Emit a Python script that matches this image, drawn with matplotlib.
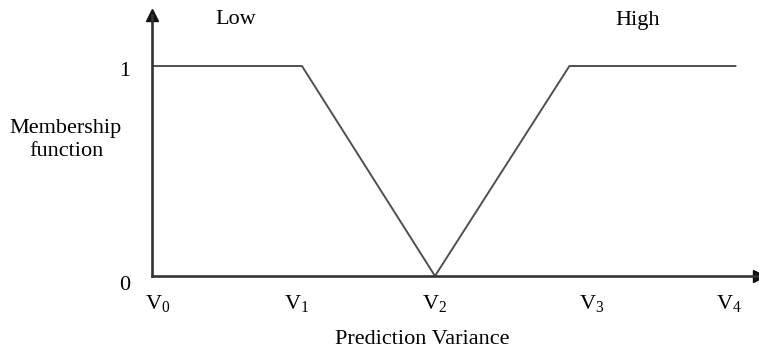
import matplotlib
matplotlib.use("Agg")
import matplotlib.pyplot as plt

plt.rcParams['font.family'] = ['Liberation Serif', 'DejaVu Serif']
plt.rcParams['mathtext.fontset'] = 'custom'
plt.rcParams['mathtext.rm'] = 'Liberation Serif'
plt.rcParams['mathtext.it'] = 'Liberation Serif:italic'

# Data (x in variance units, y membership)
low_x = [0.0, 1.06, 2.0]
low_y = [1, 1, 0]
high_x = [2.0, 2.95, 4.13]
high_y = [0, 1, 1]
v_labels = [r'$\mathrm{V}_0$', r'$\mathrm{V}_1$', r'$\mathrm{V}_2$', r'$\mathrm{V}_3$', r'$\mathrm{V}_4$']
v_pos = [0.04, 1.02, 2.0, 3.11, 4.08]

FS = 16

fig = plt.figure(figsize=(7.59, 3.55), dpi=100)
ax = fig.add_axes([152/759, (355-276)/355, (759-152)/759, (276-15)/355])
ax.set_xlim(0, 4.29)
ax.set_ylim(0, 1.243)

line_c = '#505050'
ax.plot(low_x, low_y, color=line_c, lw=1.4, solid_capstyle='butt')
ax.plot(high_x, high_y, color=line_c, lw=1.4, solid_capstyle='butt')

for s in ['top', 'right']:
    ax.spines[s].set_visible(False)
for s in ['left', 'bottom']:
    ax.spines[s].set_color('#333333')
    ax.spines[s].set_linewidth(1.9)

# arrow heads
ax.plot([0], [1], marker='^', color='#111111', markersize=8, transform=ax.transAxes, clip_on=False)
ax.plot([1], [0], marker='>', color='#111111', markersize=8, transform=ax.transAxes, clip_on=False)

ax.set_xticks(v_pos)
ax.set_xticklabels(v_labels, fontsize=FS)
ax.tick_params(axis='x', length=0, pad=12)
ax.set_yticks([])

ax.annotate('1', xy=(0, 1), xycoords='data', xytext=(-27, -5), textcoords='offset pixels',
            ha='center', va='center', fontsize=FS, annotation_clip=False)
ax.annotate('0', xy=(0, 0), xycoords='data', xytext=(-27, -9), textcoords='offset pixels',
            ha='center', va='center', fontsize=FS, annotation_clip=False)

fig.text(66/759, 1 - 140/355, 'Membership\nfunction', ha='center', va='center', fontsize=FS,
         linespacing=1.25)
fig.text(236/759, 1 - 20/355, 'Low', ha='center', va='center', fontsize=FS)
fig.text(638/759, 1 - 20/355, 'High', ha='center', va='center', fontsize=FS)
fig.text(422/759, 1 - 340/355, 'Prediction Variance', ha='center', va='center', fontsize=FS)

fig.savefig('out.png', dpi=100)
